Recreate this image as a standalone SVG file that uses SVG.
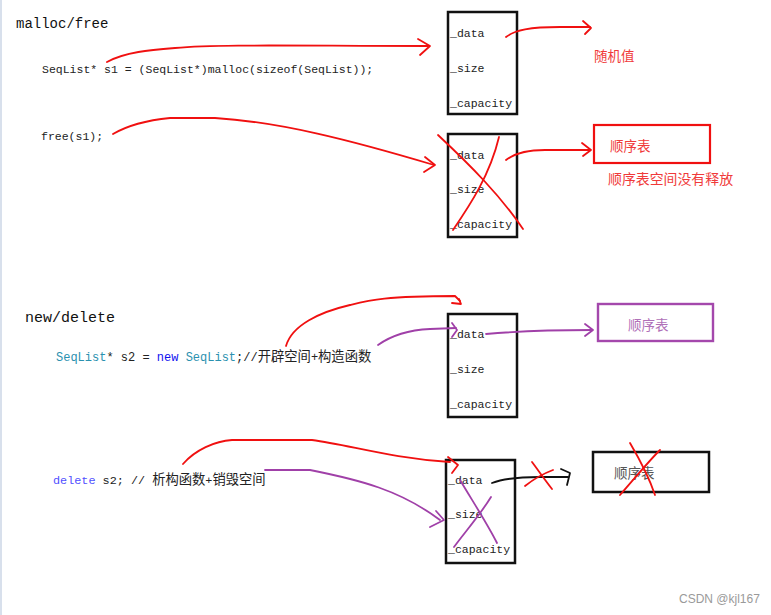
<svg xmlns="http://www.w3.org/2000/svg" width="771" height="615" viewBox="0 0 771 615">
<style>
.code{font-family:"Liberation Mono","Noto Sans CJK SC",monospace;font-size:11.5px;fill:#222}
.head{font-family:"Liberation Mono","Noto Sans CJK SC",monospace;font-size:14px;fill:#111}
.fld{font-family:"Liberation Mono",monospace;font-size:11.5px;fill:#222}
.cn{font-family:"Noto Sans CJK SC",sans-serif;font-size:13.5px}
.cz{font-family:"Noto Sans CJK SC",sans-serif;font-size:13.3px}
.box{fill:none;stroke:#111;stroke-width:2.5}
.red{fill:none;stroke:#f01010;stroke-width:1.8;stroke-linecap:round;stroke-linejoin:round}
.pur{fill:none;stroke:#a040a8;stroke-width:1.8;stroke-linecap:round;stroke-linejoin:round}
.blk{fill:none;stroke:#111;stroke-width:1.8;stroke-linecap:round;stroke-linejoin:round}
.kw{fill:#1010f0}.ty{fill:#2b91af}
</style>
<rect width="771" height="615" fill="#fff"/>
<rect x="0" y="0" width="2" height="615" fill="#d8e0ec"/>

<g id="section1">
<text class="head" x="16" y="28">malloc/free</text>
<text class="code" x="42" y="73">SeqList* s1 = (SeqList*)malloc(sizeof(SeqList));</text>
<text class="code" x="41" y="140">free(s1);</text>
</g>

<g id="box1">
<rect class="box" x="448" y="12" width="69" height="102"/>
<text class="fld" x="450" y="37">_data</text>
<text class="fld" x="450" y="72">_size</text>
<text class="fld" x="450" y="107">_capacity</text>
</g>
<g id="random">
<text class="cn" x="594" y="61" fill="#f03a3a">随机值</text>
</g>

<g id="box2">
<rect class="box" x="448" y="134" width="69" height="103"/>
<text class="fld" x="450" y="159">_data</text>
<text class="fld" x="450" y="193">_size</text>
<text class="fld" x="450" y="228">_capacity</text>
</g>
<g id="seq1">
<rect x="594" y="125" width="116" height="38" fill="none" stroke="#f01010" stroke-width="2.2"/>
<text class="cn" x="610" y="151" fill="#f03a3a">顺序表</text>
<text class="cn" x="608" y="184" fill="#f03a3a" style="font-size:13.9px">顺序表空间没有释放</text>
</g>

<g id="section2">
<text class="head" x="25" y="322" style="font-size:15px">new/delete</text>
<text class="code" x="56" y="361" style="font-size:12px"><tspan class="ty">SeqList</tspan>* s2 = <tspan class="kw">new</tspan> <tspan class="ty">SeqList</tspan>;//<tspan class="cz">开辟空间</tspan>+<tspan class="cz">构造函数</tspan></text>
</g>
<g id="box3">
<rect class="box" x="448" y="314" width="69" height="103"/>
<text class="fld" x="450" y="338">_data</text>
<text class="fld" x="450" y="373">_size</text>
<text class="fld" x="450" y="408">_capacity</text>
</g>
<g id="seq2">
<rect x="598" y="304" width="115" height="37" fill="none" stroke="#a448ac" stroke-width="2.4"/>
<text class="cn" x="628" y="330" fill="#b070b8">顺序表</text>
</g>

<g id="section3">
<text class="code" x="53" y="484" style="font-size:11.8px"><tspan class="kw" style="fill:#5050ff">delete</tspan> s2; // <tspan class="cz">析构函数</tspan>+<tspan class="cz">销毁空间</tspan></text>
</g>
<g id="box4">
<rect class="box" x="446" y="460" width="69" height="103"/>
<text class="fld" x="448" y="484">_data</text>
<text class="fld" x="448" y="518">_size</text>
<text class="fld" x="448" y="553">_capacity</text>
</g>
<g id="seq3">
<rect class="box" x="593" y="452" width="116" height="40"/>
<text class="cn" x="614" y="478" fill="#555">顺序表</text>
</g>

<g id="connectors">
<!-- section 1 -->
<path class="red" d="M107,62 C125,52 150,50 175,48 C220,44 300,46 428,46"/>
<path class="red" d="M418,39 L430,46 L420,55"/>
<path class="red" d="M506,37 C515,30 530,27 560,27 L590,27"/>
<path class="red" d="M583,21 L591,28 L585,34"/>
<path class="red" d="M113,134 C130,124 150,120 170,118 L215,118 C280,122 350,140 434,165"/>
<path class="red" d="M425,157 L435,165 L424,172"/>
<path class="red" d="M506,160 C515,153 528,150 545,150 L590,150"/>
<path class="red" d="M582,143 L591,150 L583,156"/>
<path class="red" d="M438,135 C470,165 500,195 523,229"/>
<path class="red" d="M499,137 C490,175 470,205 453,230"/>
<!-- section 2 -->
<path class="red" d="M286,346 C292,325 320,312 350,305 C370,300 385,296 455,296 L460,301"/>
<path class="red" d="M452,303 L461,304 L459,299"/>
<path class="pur" d="M378,345 C392,335 410,330 430,329 L456,328"/>
<path class="pur" d="M452,323 L457,330 L452,337"/>
<path class="pur" d="M486,334 C520,331 550,330 592,330"/>
<path class="pur" d="M585,324 L593,330 L585,336"/>
<!-- section 3 -->
<path class="red" d="M183,464 C195,450 215,441 232,440 L312,440 C350,445 390,458 450,462"/>
<path class="red" d="M448,457 L458,465 L452,473"/>
<path class="pur" d="M265,470 L310,470 C360,480 400,490 440,520"/>
<path class="pur" d="M436,511 L444,520 L430,527"/>
<path class="pur" d="M460,480 C475,505 488,525 497,543"/>
<path class="pur" d="M491,497 C480,515 465,532 454,547"/>
<path class="blk" d="M492,483 C505,478 520,477 540,477 L568,477"/>
<path class="blk" d="M561,469 L570,473 L567,485"/>
<path class="red" d="M532,462 C538,470 545,480 552,489"/>
<path class="red" d="M525,486 C535,478 545,473 553,470"/>
<path class="red" d="M630,443 C640,460 650,480 655,495"/>
<path class="red" d="M620,495 C635,478 648,462 660,450"/>
</g>

<g id="watermark">
<text x="679" y="603" font-family="Liberation Sans,Arial,sans-serif" font-size="12" fill="#9a9a9a">CSDN @kjl167</text>
</g>
</svg>
